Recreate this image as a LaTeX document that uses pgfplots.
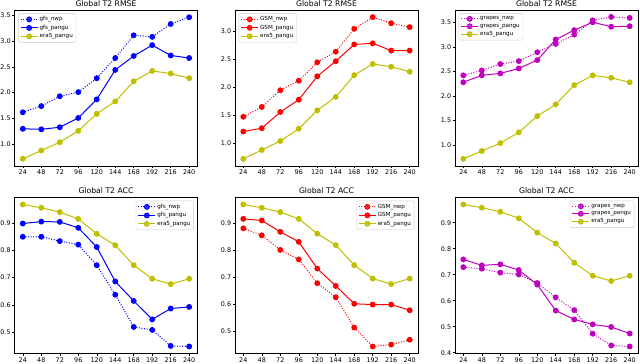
\documentclass[border=0pt]{standalone}
\usepackage{fontspec}
\setmainfont{DejaVu Sans}
\usepackage{pgfplots}
\usepackage{pgfplotstable}
\pgfplotsset{compat=1.18}

\definecolor{mplyellow}{rgb}{0.75,0.75,0}
\definecolor{mplmagenta}{rgb}{0.75,0,0.75}

% lead time (h), RMSE of 2 m temperature
\pgfplotstableread{
h   gfsnwp gfspangu gsmnwp gsmpangu grapesnwp grapespangu era5
24  1.62   1.30     1.475  1.21     2.42      2.28        0.72
48  1.74   1.29     1.65   1.27     2.52      2.42        0.88
72  1.93   1.33     1.95   1.56     2.65      2.46        1.04
96  2.01   1.51     2.12   1.78     2.71      2.56        1.26
120 2.28   1.87     2.45   2.20     2.89      2.73        1.59
144 2.67   2.44     2.64   2.47     3.06      3.15        1.83
168 3.11   2.71     3.05   2.77     3.25      3.34        2.22
192 3.08   2.92     3.26   2.79     3.54      3.50        2.42
216 3.33   2.72     3.15   2.66     3.61      3.41        2.37
240 3.46   2.67     3.08   2.66     3.59      3.42        2.28
}\rmse

% lead time (h), ACC of 2 m temperature
\pgfplotstableread{
h   gfsnwp gfspangu gsmnwp gsmpangu grapesnwp grapespangu era5
24  0.851  0.900    0.882  0.917    0.729     0.759       0.970
48  0.851  0.907    0.856  0.911    0.723     0.736       0.958
72  0.835  0.906    0.802  0.869    0.708     0.740       0.942
96  0.822  0.884    0.767  0.832    0.701     0.718       0.917
120 0.746  0.813    0.679  0.733    0.668     0.662       0.862
144 0.637  0.686    0.627  0.669    0.613     0.562       0.820
168 0.518  0.614    0.515  0.603    0.564     0.528       0.746
192 0.507  0.546    0.445  0.600    0.473     0.509       0.696
216 0.448  0.586    0.452  0.600    0.428     0.499       0.676
240 0.446  0.592    0.470  0.579    0.424     0.474       0.696
}\acc

\pgfplotsset{
  panel/.style={
    scale only axis, width=183pt, height=156pt, anchor=north west,
    xmin=13.2, xmax=250.8,
    xtick={24,48,72,96,120,144,168,192,216,240},
    xtick pos=bottom, ytick pos=left,
    tick align=outside, major tick length=2.2pt,
    every tick/.style={black, line width=0.5pt},
    axis line style={black, line width=0.5pt},
    ticklabel style={font=\fontsize{6.4}{7}\selectfont, inner sep=1.5pt},
    yticklabel style={/pgf/number format/.cd, fixed, fixed zerofill, precision=1},
    /pgf/number format/assume math mode=true,
    every axis title shift=0pt,
    title style={font=\fontsize{7.7}{9}\selectfont, at={(0.5,1)}, anchor=base, yshift=3.8pt, inner sep=0pt},
    legend style={font=\fontsize{5.6}{6.5}\selectfont, draw=black!20, rounded corners=1.5pt,
      fill=white, fill opacity=0.8, text opacity=1, inner sep=1.8pt,
      nodes={inner sep=1.4pt}},
    legend cell align=left,
    every axis plot/.append style={line width=1pt, mark=*, mark size=2.4pt, mark options={solid}},
  },
  nwp/.style={dash pattern=on 1pt off 1.6pt},
  legUL/.style={legend style={at={(0.02,0.98)}, anchor=north west}},
  legUR/.style={legend style={at={(0.98,0.98)}, anchor=north east}},
}

\begin{document}
\begin{tikzpicture}
\useasboundingbox (0,0) rectangle (640pt,-364pt);

% ---- top row: RMSE ----
\begin{axis}[panel, legUL, at={(14.5pt,-10pt)}, title={Global T2 RMSE},
  ymin=0.58, ymax=3.60, ytick={1,1.5,2,2.5,3,3.5}]
  \addplot[blue, nwp] table[x=h, y=gfsnwp] {\rmse};
  \addplot[blue] table[x=h, y=gfspangu] {\rmse};
  \addplot[mplyellow] table[x=h, y=era5] {\rmse};
  \legend{gfs\_nwp, gfs\_pangu, era5\_pangu}
\end{axis}

\begin{axis}[panel, legUL, at={(235pt,-10pt)}, title={Global T2 RMSE},
  ymin=0.593, ymax=3.387, ytick={1,1.5,2,2.5,3}]
  \addplot[red, nwp] table[x=h, y=gsmnwp] {\rmse};
  \addplot[red] table[x=h, y=gsmpangu] {\rmse};
  \addplot[mplyellow] table[x=h, y=era5] {\rmse};
  \legend{GSM\_nwp, GSM\_pangu, era5\_pangu}
\end{axis}

\begin{axis}[panel, legUL, at={(455pt,-10pt)}, title={Global T2 RMSE},
  ymin=0.575, ymax=3.75, ytick={1,1.5,2,2.5,3,3.5}]
  \addplot[mplmagenta, nwp] table[x=h, y=grapesnwp] {\rmse};
  \addplot[mplmagenta] table[x=h, y=grapespangu] {\rmse};
  \addplot[mplyellow] table[x=h, y=era5] {\rmse};
  \legend{grapes\_nwp, grapes\_pangu, era5\_pangu}
\end{axis}

% ---- bottom row: ACC ----
\begin{axis}[panel, legUR, at={(14.5pt,-197.5pt)}, title={Global T2 ACC},
  ymin=0.42, ymax=0.996, ytick={0.5,0.6,0.7,0.8,0.9}]
  \addplot[blue, nwp] table[x=h, y=gfsnwp] {\acc};
  \addplot[blue] table[x=h, y=gfspangu] {\acc};
  \addplot[mplyellow] table[x=h, y=era5] {\acc};
  \legend{gfs\_nwp, gfs\_pangu, era5\_pangu}
\end{axis}

\begin{axis}[panel, legUR, at={(235pt,-197.5pt)}, title={Global T2 ACC},
  ymin=0.419, ymax=0.996, ytick={0.5,0.6,0.7,0.8,0.9}]
  \addplot[red, nwp] table[x=h, y=gsmnwp] {\acc};
  \addplot[red] table[x=h, y=gsmpangu] {\acc};
  \addplot[mplyellow] table[x=h, y=era5] {\acc};
  \legend{GSM\_nwp, GSM\_pangu, era5\_pangu}
\end{axis}

\begin{axis}[panel, legUR, at={(455pt,-197.5pt)}, title={Global T2 ACC},
  ymin=0.397, ymax=0.997, ytick={0.4,0.5,0.6,0.7,0.8,0.9}]
  \addplot[mplmagenta, nwp] table[x=h, y=grapesnwp] {\acc};
  \addplot[mplmagenta] table[x=h, y=grapespangu] {\acc};
  \addplot[mplyellow] table[x=h, y=era5] {\acc};
  \legend{grapes\_nwp, grapes\_pangu, era5\_pangu}
\end{axis}
\end{tikzpicture}
\end{document}
